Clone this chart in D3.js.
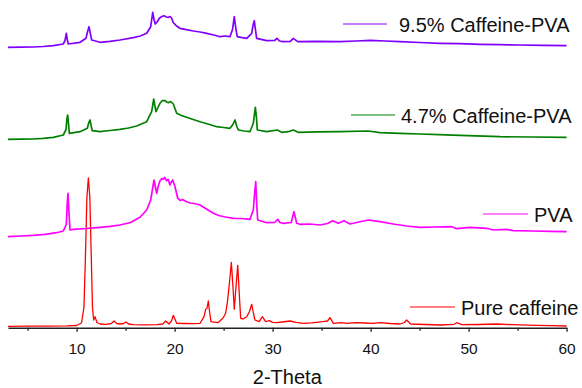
<!DOCTYPE html>
<html>
<head>
<meta charset="utf-8">
<script src="https://cdn.jsdelivr.net/npm/d3@7"></script>
<style>
  body { margin: 0; background: #fff; }
  svg { display: block; font-family: "Liberation Sans", Arial, sans-serif; }
</style>
</head>
<body>
<svg id="chart" width="582" height="388"></svg>
<script>
// 2-Theta vs intensity (a.u.), traces stacked with their offsets already in the values
const pureCaffeine = [
  [3.0,1.2],[5.0,1.3],[7.0,1.4],[9.0,1.6],[10.0,2.0],[10.5,4.5],[10.75,20],[10.9,70],[11.05,130],[11.2,149.5],
  [11.35,130],[11.5,70],[11.62,20],[11.74,7.5],[11.88,10.8],[12.08,5],[12.4,3.5],[13.0,3.2],[13.55,4],[13.82,6.5],
  [14.1,4],[14.43,3.5],[14.8,4],[15.04,5.5],[15.3,3.5],[15.76,2.8],[17.0,2.6],[18.2,2.8],[18.8,3.5],[19.09,6.5],
  [19.43,3.5],[19.7,7],[19.87,12.2],[20.05,8],[20.21,4.2],[21.0,4.0],[22.0,3.8],[22.59,4.2],[23.0,10.8],[23.17,18.2],
  [23.3,19],[23.44,26.5],[23.58,15],[23.71,5.8],[24.43,4.8],[24.94,9.5],[25.2,14],[25.38,24.8],[25.6,45],[25.79,65.2],
  [25.96,40],[26.09,18.2],[26.26,40],[26.44,62.2],[26.62,30],[26.74,9.2],[27.0,8.5],[27.36,10.8],[27.64,16],[27.87,23.2],
  [28.05,14],[28.2,7.5],[28.64,5.8],[28.95,10.8],[29.29,5.8],[29.66,6.8],[30.0,5.2],[30.42,4.8],[31.0,5.5],[31.77,6.5],
  [32.4,5.2],[33.13,4.2],[34.0,4.6],[35.11,5.8],[35.6,6.5],[35.86,9.8],[36.2,4.2],[37.0,4.8],[37.56,4.2],[38.5,4.8],
  [39.43,4.5],[40.3,4.2],[40.96,4.8],[42.0,4.0],[43.0,3.5],[43.45,5],[43.68,7.5],[44.09,3.5],[45.5,3.0],[47.08,2.5],
  [48.5,3.2],[48.79,4.8],[49.3,2.8],[51.0,3.0],[52.87,3.5],[54.5,2.8],[56.95,2.2],[58.5,1.8],[60.0,1.5]
];

const pva = [
  [3.0,90.8],[4.3,91.5],[5.58,92.2],[6.8,93.2],[7.97,94.8],[8.64,96.5],[8.95,103],[9.05,125],[9.12,134.2],[9.2,118],
  [9.33,97.5],[9.66,98.2],[10.96,99],[12.39,100.2],[13.4,101.2],[14.43,102.5],[15.5,105],[16.47,110.2],[17.15,117.5],[17.56,127.5],
  [17.9,147.5],[18.05,140],[18.17,134.2],[18.35,142],[18.51,146.8],[18.7,149],[18.85,148.2],[19.0,150],[19.19,146.8],[19.35,148],
  [19.53,142.5],[19.65,145],[19.81,147.5],[20.04,140.8],[20.32,129.2],[20.6,127],[20.8,128],[21.23,125.8],[21.6,124.5],[22.0,124],
  [22.59,122.5],[23.0,120],[23.5,117],[23.95,114.2],[24.5,112],[25.2,110.5],[25.99,109.2],[26.8,109],[27.69,108.2],[28.03,117.5],
  [28.15,132],[28.28,145.8],[28.4,120],[28.48,107.5],[29.4,104.8],[30.2,105],[30.52,108.2],[30.75,105],[31.09,104.2],[31.9,105],
  [32.18,115.8],[32.46,104.2],[32.8,103.2],[33.8,103.5],[34.84,102.5],[35.6,104],[36.13,106.8],[36.7,104.2],[37.29,106.8],[37.9,103.5],
  [38.8,105.5],[39.77,107.5],[40.96,105.8],[42.3,103.5],[43.68,101.5],[45.04,100.2],[46.5,100.5],[48.28,100.8],[48.79,98.8],[50.14,100.2],
  [51.85,99.2],[52.52,97.5],[53.89,98.2],[54.56,96.8],[56.5,96.5],[58.3,96.2],[60.0,95.8]
];

const caffeinePva47 = [
  [3.0,188.2],[4.3,188.3],[5.58,188.5],[6.6,189.2],[7.62,190.2],[8.64,192.5],[8.92,198],[9.0,208],[9.09,212.5],[9.17,204],
  [9.26,194.2],[10.35,195.8],[11.09,199.2],[11.25,205],[11.37,207.5],[11.5,201],[11.6,196.8],[12.39,195.8],[13.4,197],[14.43,198.2],
  [15.3,199.5],[16.13,201.5],[17.15,205.8],[17.66,215.8],[17.87,228.5],[18.0,221],[18.1,215.8],[18.3,220],[18.51,224.2],[18.75,227],
  [19.02,226.8],[19.2,225.5],[19.36,224.8],[19.6,226],[19.87,223.5],[20.21,214.2],[20.7,212],[21.23,210.2],[21.9,208],[22.59,205.8],
  [23.4,203.5],[24.3,200.8],[25.0,200],[25.65,199.2],[25.95,203],[26.16,207.5],[26.35,201],[26.5,197.5],[27.1,196.5],[27.69,195.8],
  [28.03,204.2],[28.24,220.2],[28.35,210],[28.44,197.5],[29.4,195.8],[30.48,197.5],[30.93,195.2],[31.6,195.8],[32.11,197.5],[32.62,195.2],
  [34.5,195.6],[36.88,195.8],[39.74,196.5],[40.96,194.8],[43.0,194.2],[45.04,193.5],[47.0,192.8],[49.12,192.2],[53.2,190.8],[56.5,190.5],
  [60.0,190.2]
];

const caffeinePva95 = [
  [3.0,280.2],[4.3,280.3],[5.58,280.5],[6.6,281],[7.62,281.8],[8.64,283.5],[8.82,287],[8.95,294.2],[9.05,288],[9.15,283.5],
  [10.35,285.2],[10.96,289.2],[11.12,296],[11.27,300.8],[11.4,294],[11.54,287.5],[12.39,285.2],[13.4,286.2],[14.43,287.5],[15.79,289.8],
  [16.5,291.5],[17.15,294.2],[17.56,300.8],[17.77,315.2],[17.9,308],[18.03,303.5],[18.25,306],[18.44,309.2],[18.7,311],[18.92,311.8],
  [19.15,310.5],[19.36,310.2],[19.55,311],[19.7,309.2],[19.87,304.8],[20.2,301.5],[20.55,299.2],[21.2,297.8],[21.91,296.5],[22.6,295.5],
  [23.28,294.2],[24.0,292.5],[24.63,290.8],[25.15,291.5],[25.65,290.8],[25.91,298],[26.09,310.8],[26.26,298],[26.4,290.8],[26.9,289.8],
  [27.36,289.2],[27.87,294.2],[28.0,302],[28.13,306.8],[28.25,298],[28.37,289.2],[29.4,286.8],[30.2,287],[30.45,289.2],[30.7,286.5],
  [31.09,285.8],[31.8,286.2],[32.11,289.2],[32.56,285.8],[34.5,286.2],[36.88,285.8],[38.5,286.5],[39.94,287.2],[41.5,286.5],[43.0,285.8],
  [45.0,285],[47.08,284.2],[49.1,283.8],[51.16,283.2],[53.2,282.8],[55.24,282.5],[57.6,282.1],[60.0,281.8]
];

const seriesNames = ['9.5% Caffeine-PVA', '4.7% Caffeine-PVA', 'PVA', 'Pure caffeine'];
const seriesData = [caffeinePva95, caffeinePva47, pva, pureCaffeine];
const seriesColors = ['#8000ff', '#008000', '#ff00ff', '#ff0000'];

const majorTicks = [10, 20, 30, 40, 50, 60];
const minorTicks = [5, 15, 25, 35, 45, 55];

// legend placement (line start, line end, line y, text x)
const legendPos = [
  [343, 387, 24, 399],
  [351, 395, 115, 401],
  [483, 528, 214, 534],
  [410, 455, 307, 461]
];

const svg = d3.select('#chart');

const x = d3.scaleLinear()
  .domain([3, 60])
  .range([8, 566.6]);

const y = d3.scaleLinear()
  .domain([0, 320])
  .range([327.5, 7.5]);

const line = d3.line()
  .x(d => x(d[0]))
  .y(d => y(d[1]));

// draw bottom series first so upper ones sit on top
for (let i = seriesData.length - 1; i >= 0; i--) {
  svg.append('path')
    .datum(seriesData[i])
    .attr('fill', 'none')
    .attr('stroke', seriesColors[i])
    .attr('stroke-width', i === 3 ? 1.3 : 1.7)
    .attr('stroke-linejoin', 'round')
    .attr('d', line);
}

const axisY = 327.7;

svg.append('g')
  .attr('transform', 'translate(0,' + axisY + ')')
  .call(d3.axisBottom(x).tickValues(minorTicks).tickSize(3).tickSizeOuter(0).tickFormat(''))
  .call(g => g.select('.domain').remove())
  .call(g => g.selectAll('line').attr('stroke', '#222').attr('stroke-width', 1.3));

const xAxis = svg.append('g')
  .attr('transform', 'translate(0,' + axisY + ')')
  .call(d3.axisBottom(x).tickValues(majorTicks).tickSize(4).tickSizeOuter(0).tickPadding(11.5).tickFormat(d3.format('d')));

xAxis.select('.domain').attr('stroke', '#222').attr('stroke-width', 1.6);
xAxis.selectAll('line').attr('stroke', '#222').attr('stroke-width', 1.3);
xAxis.selectAll('text')
  .attr('font-family', '"Liberation Sans", Arial, sans-serif')
  .attr('font-size', 15.5)
  .attr('fill', '#111');

svg.append('text')
  .attr('x', (x.range()[0] + x.range()[1]) / 2)
  .attr('y', 384.3)
  .attr('text-anchor', 'middle')
  .attr('font-size', 20)
  .attr('fill', '#111')
  .text('2-Theta');

// legend
seriesNames.forEach((name, i) => {
  const p = legendPos[i];
  svg.append('line')
    .attr('x1', p[0]).attr('x2', p[1])
    .attr('y1', p[2]).attr('y2', p[2])
    .attr('stroke', seriesColors[i])
    .attr('stroke-width', 1);
  svg.append('text')
    .attr('x', p[3])
    .attr('y', p[2] + 7.5)
    .attr('font-size', 20)
    .attr('fill', '#111')
    .text(name);
});
</script>
</body>
</html>
